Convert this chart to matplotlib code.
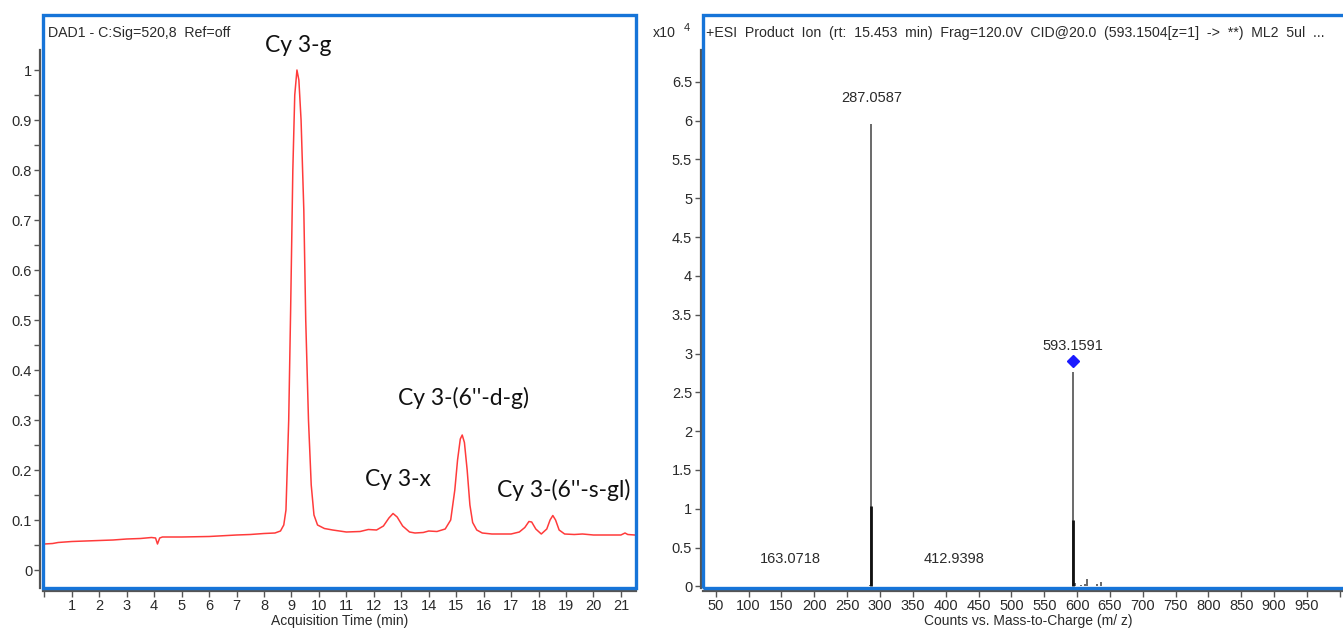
import matplotlib
matplotlib.use("Agg")
import matplotlib.pyplot as plt
from matplotlib.patches import Rectangle
from matplotlib.ticker import FixedLocator

# ---- chromatogram (DAD1, 520 nm) ----
times = [0.0, 0.3, 0.5, 1.0, 1.5, 2.0, 2.5, 3.0, 3.5, 3.9, 4.05, 4.12, 4.2, 4.3,
         5.0, 6.0, 7.0, 7.5, 8.0, 8.4, 8.6, 8.72, 8.8, 8.9, 8.97, 9.05, 9.12,
         9.2, 9.27, 9.35, 9.45, 9.52, 9.62, 9.72, 9.82, 9.95, 10.2, 10.5, 11.0,
         11.5, 11.8, 12.1, 12.35, 12.55, 12.7, 12.85, 13.05, 13.3, 13.5, 13.8,
         14.0, 14.3, 14.6, 14.8, 14.95, 15.05, 15.15, 15.22, 15.3, 15.4, 15.5,
         15.6, 15.75, 15.95, 16.3, 17.0, 17.3, 17.5, 17.65, 17.75, 17.9, 18.1,
         18.3, 18.42, 18.52, 18.62, 18.75, 18.95, 19.3, 19.6, 20.0, 20.5, 21.0,
         21.15, 21.25, 21.5]
absorbance = [0.052, 0.053, 0.055, 0.057, 0.058, 0.059, 0.060, 0.062, 0.063,
              0.065, 0.064, 0.052, 0.064, 0.066, 0.066, 0.067, 0.070, 0.071,
              0.073, 0.074, 0.078, 0.090, 0.120, 0.300, 0.520, 0.800, 0.950,
              1.000, 0.980, 0.900, 0.720, 0.500, 0.300, 0.170, 0.110, 0.090,
              0.083, 0.080, 0.076, 0.077, 0.081, 0.080, 0.088, 0.104, 0.113,
              0.106, 0.088, 0.076, 0.074, 0.075, 0.078, 0.077, 0.082, 0.100,
              0.160, 0.220, 0.262, 0.270, 0.255, 0.200, 0.130, 0.095, 0.080,
              0.074, 0.072, 0.072, 0.076, 0.085, 0.097, 0.096, 0.082, 0.072,
              0.082, 0.100, 0.109, 0.100, 0.080, 0.072, 0.071, 0.072, 0.070,
              0.070, 0.070, 0.074, 0.071, 0.070]
peak_names = ["Cy 3-g", "Cy 3-x", "Cy 3-(6''-d-g)", "Cy 3-(6''-s-gl)"]

# ---- MS/MS product ion spectrum (counts x10^4) ----
mz = [163.0718, 285.5, 287.0587, 412.9398, 593.1591, 597.2, 606.5, 612.3,
      615.8, 630.5, 636.4]
counts = [0.01, 0.02, 5.95, 0.01, 2.76, 0.05, 0.02, 0.03, 0.09, 0.03, 0.06]
core_mz = [287.0587, 593.1591]
core_counts = [1.03, 0.86]
labelled_mz = [163.0718, 287.0587, 412.9398, 593.1591]
precursor_mz = 593.1591

BLUE = "#1674d8"
AXC = "#555555"
TXT = "#2a2a2a"
plt.rcParams["font.family"] = ["Liberation Sans", "DejaVu Sans"]

W, H = 1343, 633
fig = plt.figure(figsize=(W / 100, H / 100), dpi=100)
ax1 = fig.add_axes([43 / W, 45 / H, 593 / W, 573 / H])
ax2 = fig.add_axes([703 / W, 45 / H, 650 / W, 573 / H])


def style_axes(ax, ytop):
    for s in ("top", "right"):
        ax.spines[s].set_visible(False)
    for s in ("left", "bottom"):
        ax.spines[s].set_color(AXC)
        ax.spines[s].set_linewidth(1.6)
        ax.spines[s].set_position(("outward", 1.8))
    ax.spines["left"].set_bounds(ax.get_ylim()[0], ytop)
    ax.tick_params(which="both", direction="out", length=4, width=1,
                   color=AXC, labelsize=10.5, labelcolor=TXT, pad=2)
    ax.add_patch(Rectangle((0, 0), 1, 1, transform=ax.transAxes, fill=False,
                           ec=BLUE, lw=2.4, clip_on=False, zorder=6))


# left: chromatogram
ax1.plot(times, absorbance, color="#ff3b3b", lw=1.1)
ax1.set_xlim(-0.05, 21.55)
ax1.set_ylim(-0.036, 1.11)
ax1.yaxis.set_major_locator(FixedLocator([i / 10 for i in range(11)]))
ax1.set_yticklabels(["0"] + [f"{i / 10:g}" for i in range(1, 10)] + ["1"])
ax1.yaxis.set_minor_locator(FixedLocator([0.05 + i / 10 for i in range(10)]))
ax1.set_xticks(range(22))
ax1.set_xticklabels([""] + [str(i) for i in range(1, 22)])
style_axes(ax1, 1.04)
ax1.set_xlabel("Acquisition Time (min)", fontsize=10, color=TXT, labelpad=1)
ax1.text(0.008, 0.969, "DAD1 - C:Sig=520,8  Ref=off", transform=ax1.transAxes,
         fontsize=10.2, color=TXT, va="center", ha="left")

ann_font = dict(family=["Lato", "DejaVu Sans"], fontsize=16.5, color="#111111",
                ha="center", va="center")
ax1.text(9.23, 1.05, peak_names[0], **ann_font)
ax1.text(12.88, 0.18, peak_names[1], **ann_font)
ax1.text(15.28, 0.344, peak_names[2], **ann_font)
ax1.text(18.92, 0.16, peak_names[3], **ann_font)

# right: product ion spectrum
ax2.vlines(mz, 0, counts, color="#505050", lw=1.2)
ax2.vlines(core_mz, 0, core_counts, color="#111111", lw=2.0)
ax2.set_xlim(30.6, 1020)
ax2.set_ylim(-0.02, 7.36)
ax2.set_yticks([i * 0.5 for i in range(14)])
ax2.set_yticklabels([f"{i * 0.5:g}" for i in range(14)])
ax2.set_xticks(range(50, 1001, 50))
ax2.set_xticklabels([str(v) for v in range(50, 1000, 50)] + [""])
style_axes(ax2, 6.91)
ax2.set_xlabel("Counts vs. Mass-to-Charge (m/ z)", fontsize=10, color=TXT,
               labelpad=1)
ax2.text(0.005, 0.969,
         "+ESI  Product  Ion  (rt:  15.453  min)  Frag=120.0V  CID@20.0  "
         "(593.1504[z=1]  ->  **)  ML2  5ul  ...",
         transform=ax2.transAxes, fontsize=10.2, color=TXT, va="center",
         ha="left")
for m in labelled_mz:
    c = counts[mz.index(m)]
    ax2.annotate(f"{m:.4f}", (m, c), xytext=(0, 19), textcoords="offset points",
                 ha="center", va="center", fontsize=10.5, color=TXT)
pc = counts[mz.index(precursor_mz)]
ax2.plot([precursor_mz], [pc + 0.14], marker="D", ms=6, color="#1a1aff",
         ls="none", zorder=7)

fig.text(653 / W, 1 - 33 / H, "x10", fontsize=10.2, color=TXT, va="center")
fig.text(684 / W, 1 - 28 / H, "4", fontsize=8, color=TXT, va="center")

fig.savefig("out.png", dpi=100, facecolor="white")
